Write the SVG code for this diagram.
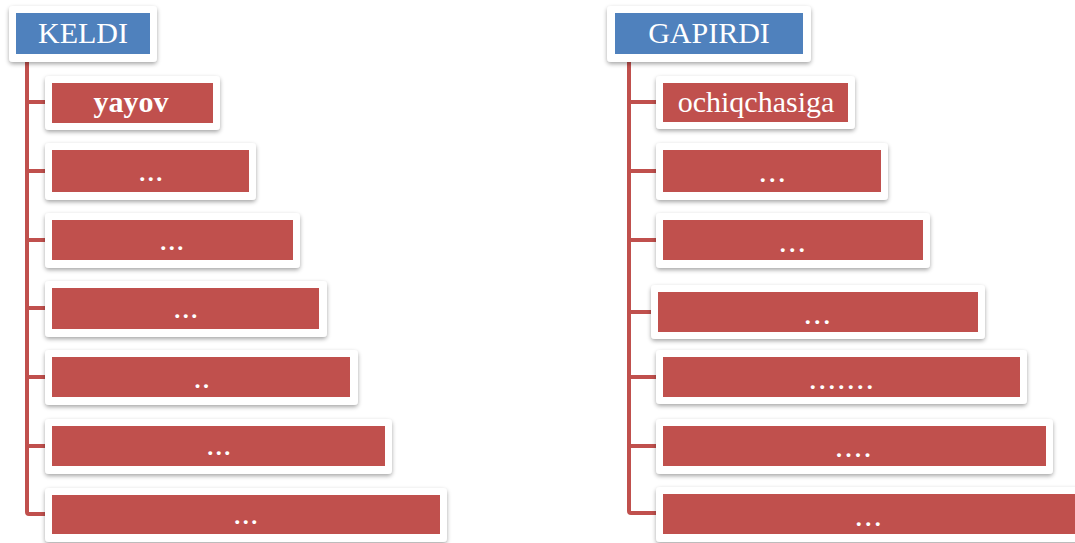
<svg xmlns="http://www.w3.org/2000/svg" width="1075" height="543" viewBox="0 0 1075 543">
<defs>
<filter id="sh" x="-10%" y="-20%" width="120%" height="150%">
<feDropShadow dx="0" dy="2" stdDeviation="2" flood-color="#000" flood-opacity="0.35"/>
</filter>
<style>
.card{fill:#fff;filter:url(#sh)}
.blue{fill:#4f81bd}
.red{fill:#c0504d}
.conn{stroke:#c0504d;stroke-width:4;fill:none;stroke-linejoin:round}
.t{font-family:"Liberation Serif","Times New Roman",serif;fill:#fff;text-anchor:middle}
.hd{font-size:30px}
.lbl{font-size:30px}
.b{font-weight:bold}
.dl{font-size:24px;letter-spacing:2.5px;font-weight:bold}
.dr{font-size:24px;letter-spacing:3.5px;font-weight:bold}
</style>
</defs>
<rect width="1075" height="543" fill="#fff"/>
<g id="connectors">
<path class="conn" d="M27 62 V512 Q27 514 29 514 H45"/>
<path class="conn" d="M27 102 H45 M27 171 H45 M27 240 H45 M27 308 H45 M27 377 H45 M27 446 H45"/>
<path class="conn" d="M629 62 V511 Q629 513 631 513 H656"/>
<path class="conn" d="M629 102 H656 M629 171 H656 M629 240 H656 M629 312 H651 M629 377 H656 M629 446 H656"/>
</g>
<g id="keldi">
<rect class="card" x="9" y="6" width="148" height="56" rx="4"/>
<rect class="blue" x="16" y="13" width="134" height="41"/>
<text class="t hd" x="83" y="43">KELDI</text>
</g>
<g id="l1">
<rect class="card" x="45" y="76" width="175" height="54" rx="4"/>
<rect class="red" x="52" y="83" width="161" height="40"/>
<text class="t lbl b" x="131" y="112">yayov</text>
</g>
<g id="l2">
<rect class="card" x="45" y="143" width="211" height="57" rx="4"/>
<rect class="red" x="52" y="150" width="197" height="42"/>
<text class="t dl" x="152" y="181">...</text>
</g>
<g id="l3">
<rect class="card" x="45" y="213" width="255" height="55" rx="4"/>
<rect class="red" x="52" y="220" width="241" height="40"/>
<text class="t dl" x="173" y="250">...</text>
</g>
<g id="l4">
<rect class="card" x="45" y="281" width="282" height="56" rx="4"/>
<rect class="red" x="52" y="288" width="267" height="41"/>
<text class="t dl" x="187" y="318">...</text>
</g>
<g id="l5">
<rect class="card" x="45" y="350" width="313" height="55" rx="4"/>
<rect class="red" x="52" y="357" width="298" height="40"/>
<text class="t dl" x="203" y="388">..</text>
</g>
<g id="l6">
<rect class="card" x="45" y="419" width="347" height="55" rx="4"/>
<rect class="red" x="52" y="426" width="333" height="40"/>
<text class="t dl" x="220" y="455">...</text>
</g>
<g id="l7">
<rect class="card" x="45" y="488" width="402" height="54" rx="4"/>
<rect class="red" x="52" y="495" width="388" height="39"/>
<text class="t dl" x="247" y="524">...</text>
</g>
<g id="gapirdi">
<rect class="card" x="607" y="6" width="204" height="56" rx="4"/>
<rect class="blue" x="615" y="13" width="188" height="41"/>
<text class="t hd" x="709" y="43">GAPIRDI</text>
</g>
<g id="r1">
<rect class="card" x="656" y="76" width="199" height="53" rx="4"/>
<rect class="red" x="663" y="83" width="185" height="39"/>
<text class="t lbl" x="756" y="112">ochiqchasiga</text>
</g>
<g id="r2">
<rect class="card" x="656" y="143" width="232" height="57" rx="4"/>
<rect class="red" x="663" y="150" width="218" height="42"/>
<text class="t dr" x="774" y="182">...</text>
</g>
<g id="r3">
<rect class="card" x="656" y="213" width="274" height="55" rx="4"/>
<rect class="red" x="663" y="220" width="260" height="40"/>
<text class="t dr" x="794" y="252">...</text>
</g>
<g id="r4">
<rect class="card" x="651" y="285" width="334" height="54" rx="4"/>
<rect class="red" x="658" y="292" width="320" height="40"/>
<text class="t dr" x="819" y="324">...</text>
</g>
<g id="r5">
<rect class="card" x="656" y="350" width="371" height="54" rx="4"/>
<rect class="red" x="663" y="357" width="357" height="40"/>
<text class="t dr" x="843" y="389">.......</text>
</g>
<g id="r6">
<rect class="card" x="656" y="419" width="397" height="55" rx="4"/>
<rect class="red" x="663" y="426" width="383" height="40"/>
<text class="t dr" x="855" y="457">....</text>
</g>
<g id="r7">
<rect class="card" x="656" y="487" width="430" height="55" rx="4"/>
<rect class="red" x="663" y="494" width="416" height="40"/>
<text class="t dr" x="870" y="526">...</text>
</g>
</svg>
